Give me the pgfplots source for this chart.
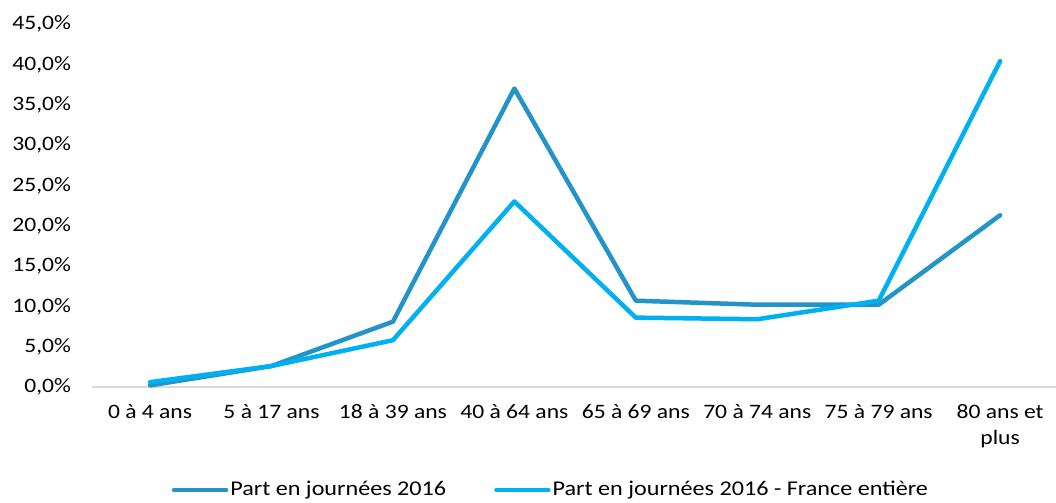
\documentclass[border=0pt]{standalone}
\usepackage{fontspec}
\setmainfont{Carlito}[FakeStretch=1.15]
\usepackage{pgfplots}
\pgfplotsset{compat=1.18}
\definecolor{darkb}{HTML}{2394C8}
\definecolor{lightb}{HTML}{00B0F0}
\definecolor{axgray}{HTML}{D9D9D9}
\begin{document}
\fontsize{20.5bp}{24bp}\selectfont
\begin{tikzpicture}
\path[use as bounding box] (-92bp,-116bp) rectangle (964bp,387bp);
\begin{axis}[
  at={(0,0)}, anchor=south west,
  scale only axis, width=964bp, height=363bp,
  xmin=-0.478, xmax=7.46, ymin=0, ymax=45,
  axis x line*=bottom, axis y line*=left,
  x axis line style={draw=axgray, line width=1.5bp, -},
  y axis line style={draw=none},
  major tick length=0pt,
  xtick={0,...,7},
  xticklabels={0 à 4 ans,5 à 17 ans,18 à 39 ans,40 à 64 ans,65 à 69 ans,70 à 74 ans,75 à 79 ans,{80 ans et\\plus}},
  xticklabel style={align=center, font=\fontsize{20.5bp}{26bp}\selectfont, yshift=-10bp},
  ytick={0,5,...,45},
  yticklabel={\pgfmathprintnumber[fixed,fixed zerofill,precision=1,use comma]{\tick}\%},
  yticklabel style={xshift=-14bp},
  /pgf/number format/assume math mode=true,
  tick label style={font=\fontsize{20.5bp}{24bp}\selectfont},
  legend columns=2,
  legend style={draw=none, at={(0.476,-0.284)}, anchor=center, font=\fontsize{21bp}{24bp}\selectfont,
    /tikz/every even column/.append style={column sep=46bp},
    /tikz/every odd column/.append style={xshift=2bp}},
  legend image code/.code={\draw[#1, line cap=round] (0bp,0bp) -- (52bp,0bp);},
  every axis plot/.append style={line width=4.5bp, line join=round, line cap=round},
  clip=false,
]
\addplot[darkb] coordinates {(0,0.2) (1,2.6) (2,8.1) (3,37.0) (4,10.7) (5,10.2) (6,10.2) (7,21.3)};
\addlegendentry{Part en journées 2016}
\addplot[lightb] coordinates {(0,0.6) (1,2.6) (2,5.8) (3,23.0) (4,8.6) (5,8.4) (6,10.7) (7,40.4)};
\addlegendentry{Part en journées 2016 - France entière}
\end{axis}
\end{tikzpicture}
\end{document}
